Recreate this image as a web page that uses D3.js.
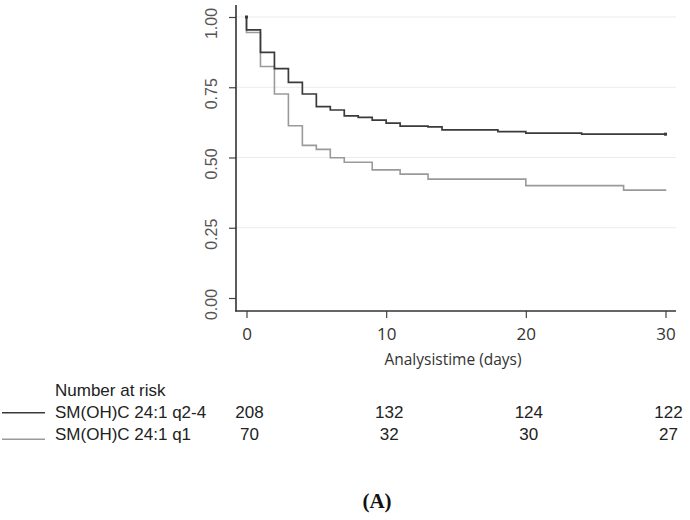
<!DOCTYPE html>
<html><head><meta charset="utf-8">
<script src="https://cdn.jsdelivr.net/npm/d3@7"></script>
<style>body{margin:0;background:#fff}svg{display:block}</style>
</head><body><svg id="c" width="690" height="520"></svg>
<script>
// ---- data ----
const groups = ["SM(OH)C 24:1 q2-4", "SM(OH)C 24:1 q1"];
const timesHigh = [0, 0, 1, 2, 3, 4, 5, 6, 7, 8, 9, 10, 11, 13, 14, 18, 20, 24, 30];
const survHigh  = [1.0, 0.954, 0.874, 0.816, 0.767, 0.726, 0.681, 0.669, 0.648, 0.643, 0.633, 0.622, 0.612, 0.609, 0.598, 0.592, 0.587, 0.583, 0.583];
const timesLow  = [0, 0, 1, 2, 3, 4, 5, 6, 7, 9, 11, 13, 20, 27, 30];
const survLow   = [1.0, 0.945, 0.824, 0.726, 0.613, 0.543, 0.529, 0.499, 0.483, 0.456, 0.441, 0.423, 0.400, 0.384, 0.381];
const riskTimes = [0, 10, 20, 30];
const riskHigh  = [208, 132, 124, 122];
const riskLow   = [70, 32, 30, 27];
const xTicks = [0, 10, 20, 30];
const yTicks = [0, 0.25, 0.5, 0.75, 1];
const xTitle = "Analysistime (days)";
const riskTitle = "Number at risk";
const panelLabel = "(A)";

// ---- layout ----
const svg = d3.select("#c");
const x = d3.scaleLinear().domain([0, 30]).range([246.5, 665.5]);
const y = d3.scaleLinear().domain([0, 1]).range([298, 17]);
const axisX0 = 236, axisX1 = 676, axisY = 311, axisTop = 5;
const darkCol = "#3a3a3a", lightCol = "#9a9a9a";

// gridlines
svg.append("g").selectAll("line").data(yTicks.filter(d => d > 0)).join("line")
  .attr("x1", axisX0).attr("x2", axisX1)
  .attr("y1", d => y(d)).attr("y2", d => y(d))
  .attr("stroke", "#ebebeb").attr("stroke-width", 1);

// y axis
const yAxis = svg.append("g").attr("transform", `translate(${axisX0},0)`)
  .call(d3.axisLeft(y).tickValues(yTicks).tickFormat(d3.format(".2f")).tickSize(7).tickSizeOuter(0));
yAxis.select(".domain").remove();
yAxis.selectAll(".tick line").attr("stroke", "#444").attr("stroke-width", 1.2);
yAxis.selectAll(".tick text")
  .attr("x", null).attr("dy", null)
  .attr("transform", "translate(-19,6) rotate(-90)")
  .attr("text-anchor", "middle")
  .attr("y", 0)
  .style("font-family", "'Liberation Sans', Arial, sans-serif")
  .style("font-size", "16px").attr("fill", "#555");
svg.append("line").attr("x1", axisX0).attr("x2", axisX0).attr("y1", axisTop).attr("y2", axisY + 0.5)
  .attr("stroke", "#333").attr("stroke-width", 1.6);

// x axis
const xAxis = svg.append("g").attr("transform", `translate(0,${axisY})`)
  .call(d3.axisBottom(x).tickValues(xTicks).tickFormat(d3.format("d")).tickSize(7).tickSizeOuter(0));
xAxis.select(".domain").remove();
xAxis.selectAll(".tick line").attr("stroke", "#444").attr("stroke-width", 1.2);
xAxis.selectAll(".tick text")
  .attr("y", 28.5).attr("dy", null)
  .style("font-family", "'Open Sans', 'Segoe UI', sans-serif")
  .style("font-size", "17px").attr("fill", "#333");
svg.append("line").attr("x1", axisX0 - 0.8).attr("x2", axisX1).attr("y1", axisY).attr("y2", axisY)
  .attr("stroke", "#333").attr("stroke-width", 1.6);

svg.append("text").attr("x", 453).attr("y", 365).attr("text-anchor", "middle")
  .style("font-family", "'Open Sans', 'Segoe UI', sans-serif").style("font-size", "15.5px")
  .attr("fill", "#333").text(xTitle);

// curves
const line = d3.line().x(d => x(d[0])).y(d => y(d[1])).curve(d3.curveStepAfter);
const high = timesHigh.map((t, i) => [t, survHigh[i]]);
const low = timesLow.map((t, i) => [t, survLow[i]]);
svg.append("path").attr("d", line(low)).attr("fill", "none")
  .attr("stroke", lightCol).attr("stroke-width", 1.6);
svg.append("path").attr("d", line(high)).attr("fill", "none")
  .attr("stroke", darkCol).attr("stroke-width", 1.7);
// end markers
svg.append("rect").attr("x", x(30) - 1.5).attr("y", y(survHigh[survHigh.length - 1]) - 1.5)
  .attr("width", 3).attr("height", 3).attr("fill", darkCol);
svg.append("rect").attr("x", x(0) - 1.5).attr("y", y(1) - 1.5)
  .attr("width", 3).attr("height", 3).attr("fill", darkCol);

// number at risk table
const tfont = "'Liberation Sans', Arial, sans-serif";
svg.append("text").attr("x", 55).attr("y", 396).style("font-family", tfont).style("font-size", "17px")
  .attr("fill", "#222").text(riskTitle);
const rowsY = [417.5, 440];
const rowCols = [darkCol, lightCol];
const lineY = [412.7, 439.3];
const riskRows = [riskHigh, riskLow];
groups.forEach((g, i) => {
  svg.append("line").attr("x1", 2).attr("x2", 45).attr("y1", lineY[i]).attr("y2", lineY[i])
    .attr("stroke", rowCols[i]).attr("stroke-width", 1.5);
  svg.append("text").attr("x", 55).attr("y", rowsY[i]).style("font-family", tfont).style("font-size", "17px")
    .attr("fill", "#222").text(g);
  svg.append("g").selectAll("text").data(riskRows[i]).join("text")
    .attr("x", (d, j) => x(riskTimes[j]) + 3).attr("y", rowsY[i]).attr("text-anchor", "middle")
    .style("font-family", tfont).style("font-size", "17px").attr("fill", "#222").text(d => d);
});

// panel label
svg.append("text").attr("x", 377).attr("y", 508).attr("text-anchor", "middle")
  .style("font-family", "'Liberation Serif', 'Times New Roman', serif").style("font-size", "21px")
  .style("font-weight", "bold").attr("fill", "#111").text(panelLabel);
</script></body></html>
